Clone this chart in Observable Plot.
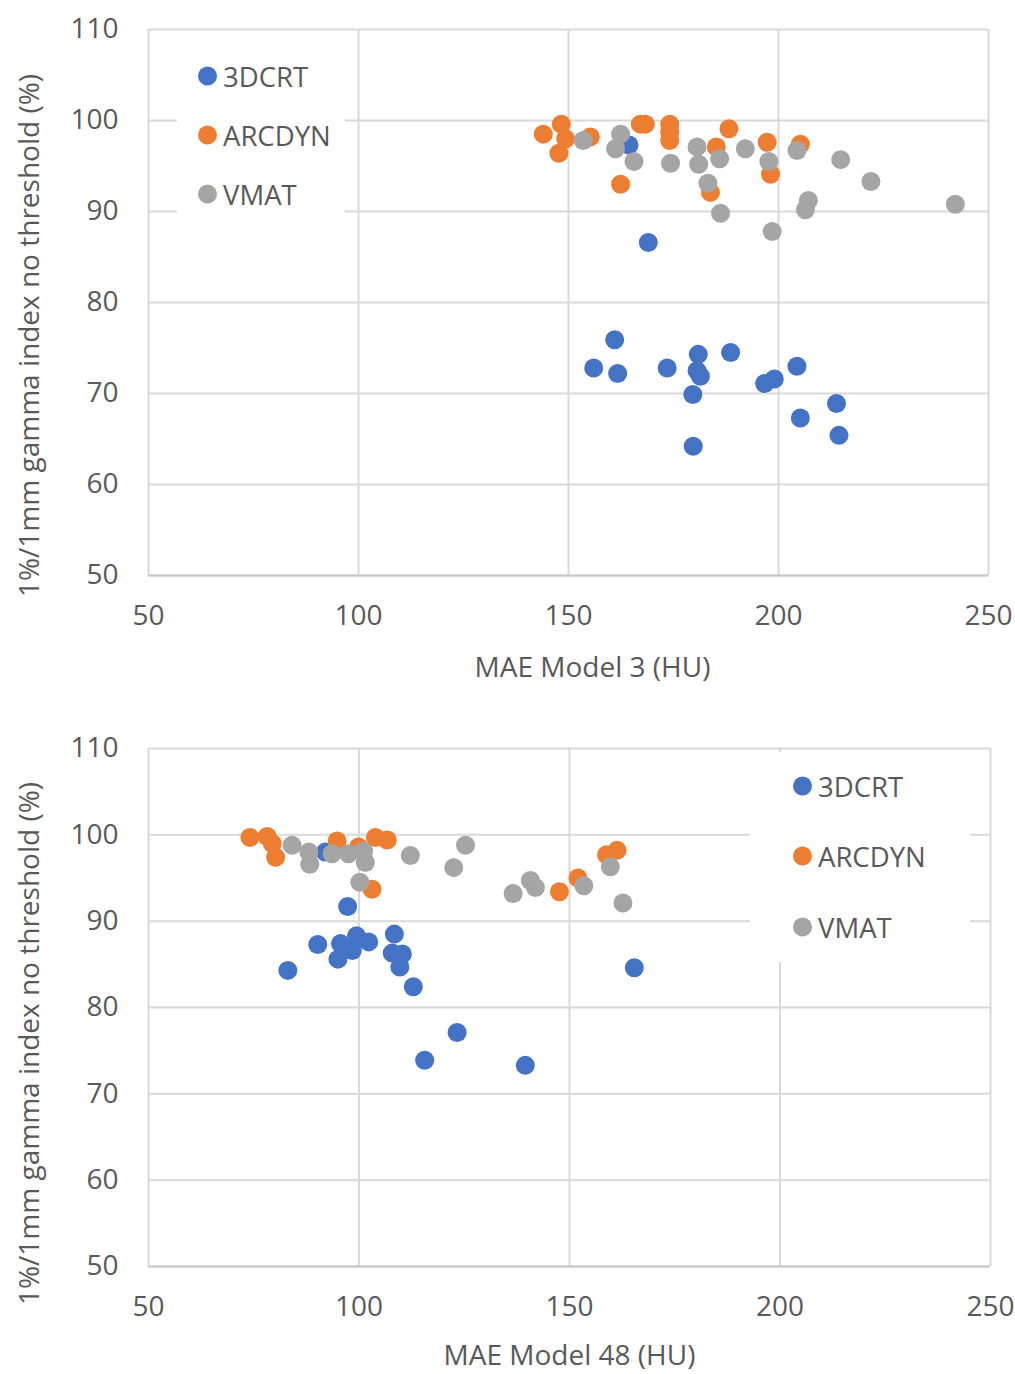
<!DOCTYPE html>
<html>
<head>
<meta charset="utf-8">
<script src="https://cdn.jsdelivr.net/npm/d3@7"></script>
<script src="https://cdn.jsdelivr.net/npm/@observablehq/plot@0.6"></script>
<style>
  body { margin: 0; background: white; }
  #wrap { position: relative; width: 1015px; height: 1374px; font-family: "Open Sans", sans-serif; color: #595959; }
  #wrap svg { display: block; }
  .legend { position: absolute; background: white; font-size: 27.5px; }
  .legend .item { position: absolute; display: flex; align-items: center; white-space: nowrap; }
  .legend .sw { width: 19px; height: 19px; border-radius: 50%; margin-right: 6px; }
</style>
</head>
<body>
<div id="wrap"></div>
<script>
// ---- data ----
const seriesNames = ["3DCRT", "ARCDYN", "VMAT"];
const seriesColors = ["#4472C4", "#ED7D31", "#A5A5A5"];
const xTicks = [50, 100, 150, 200, 250];
const yTicks = [50, 60, 70, 80, 90, 100, 110];
const yTitle = "1%/1mm gamma index no threshold (%)";

// Chart 1: MAE Model 3
const m3_3DCRT_x = [164.4, 169.0, 161.0, 156.0, 161.7, 173.5, 180.9, 180.6, 181.4, 188.6, 179.6, 179.7, 196.7, 199.0, 204.4, 205.2, 213.8, 214.4];
const m3_3DCRT_y = [97.3, 86.6, 75.9, 72.8, 72.2, 72.8, 74.3, 72.5, 71.9, 74.5, 69.9, 64.2, 71.1, 71.6, 73.0, 67.3, 68.9, 65.4];
const m3_ARCDYN_x = [144.0, 148.3, 149.3, 147.7, 155.2, 162.4, 167.1, 168.3, 174.1, 174.1, 174.1, 188.2, 185.2, 183.8, 197.3, 198.1, 205.2];
const m3_ARCDYN_y = [98.5, 99.6, 98.0, 96.4, 98.2, 93.0, 99.6, 99.6, 99.6, 98.7, 97.8, 99.1, 97.1, 92.1, 97.6, 94.1, 97.4];
const m3_VMAT_x = [153.5, 162.4, 161.2, 165.6, 174.3, 180.6, 181.0, 186.0, 183.2, 186.2, 192.1, 197.7, 204.4, 214.8, 222.0, 207.1, 206.4, 198.5, 242.1];
const m3_VMAT_y = [97.8, 98.5, 96.9, 95.5, 95.3, 97.1, 95.2, 95.8, 93.1, 89.8, 96.9, 95.5, 96.7, 95.7, 93.3, 91.2, 90.2, 87.8, 90.8];

// Chart 2: MAE Model 48
const m48_3DCRT_x = [92.0, 97.3, 90.2, 83.1, 95.6, 95.0, 98.4, 99.4, 102.3, 108.4, 107.9, 110.3, 109.7, 112.9, 123.3, 115.6, 139.5, 165.4];
const m48_3DCRT_y = [98.0, 91.7, 87.3, 84.3, 87.4, 85.6, 86.6, 88.3, 87.6, 88.5, 86.3, 86.2, 84.7, 82.4, 77.1, 73.9, 73.3, 84.6];
const m48_ARCDYN_x = [74.1, 78.2, 79.4, 80.2, 94.8, 99.9, 103.9, 106.7, 103.1, 147.6, 152.0, 158.8, 161.3];
const m48_ARCDYN_y = [99.7, 99.8, 99.0, 97.4, 99.3, 98.6, 99.7, 99.4, 93.7, 93.4, 95.0, 97.7, 98.2];
const m48_VMAT_x = [84.1, 88.1, 88.3, 93.6, 97.5, 101.1, 101.5, 100.2, 112.2, 125.3, 122.5, 136.6, 140.7, 141.9, 153.4, 159.7, 162.7];
const m48_VMAT_y = [98.8, 98.0, 96.6, 97.8, 97.8, 98.1, 96.8, 94.5, 97.6, 98.8, 96.2, 93.2, 94.7, 93.9, 94.1, 96.3, 92.1];

function rows(series, xs, ys) { return xs.map((x, i) => ({series, x, y: ys[i]})); }

function chart(opts) {
  const data = [
    ...rows("3DCRT", opts.blueX, opts.blueY),
    ...rows("ARCDYN", opts.orangeX, opts.orangeY),
    ...rows("VMAT", opts.grayX, opts.grayY)
  ];
  const grid = {stroke: "#d9d9d9", strokeOpacity: 1, strokeWidth: 2};
  return Plot.plot({
    width: 1015,
    height: opts.height,
    marginLeft: 148,
    marginRight: opts.marginRight,
    marginTop: opts.marginTop,
    marginBottom: opts.marginBottom,
    style: {fontFamily: "'Open Sans', sans-serif", fontSize: "28px", color: "#595959", background: "white", overflow: "visible"},
    x: {domain: [50, 250]},
    y: {domain: [50, 110]},
    color: {domain: seriesNames, range: seriesColors},
    marks: [
      Plot.gridX(xTicks, grid),
      Plot.gridY(yTicks, grid),
      Plot.ruleY([50], {stroke: "#c8c8c8", strokeWidth: 2}),
      Plot.axisX(xTicks, {tickSize: 0, tickPadding: 30, label: null, fill: "#595959"}),
      Plot.axisY(yTicks, {tickSize: 0, tickPadding: 30, label: null, fill: "#595959"}),
      Plot.text([opts.xTitle], {frameAnchor: "bottom", textAnchor: "middle", lineAnchor: "middle", dx: opts.xTitleDx, dy: opts.xTitleDy, fill: "#595959", fontSize: 28}),
      Plot.text([yTitle], {frameAnchor: "left", textAnchor: "middle", lineAnchor: "middle", rotate: -90, dx: -118, dy: opts.yTitleDy, fill: "#595959", fontSize: 28}),
      Plot.dot(data, {x: "x", y: "y", fill: "series", r: 9.5, stroke: null})
    ]
  });
}

const wrap = document.getElementById("wrap");
wrap.appendChild(chart({
  height: 690, marginTop: 29, marginBottom: 115, marginRight: 27,
  xTitle: "MAE Model 3 (HU)", xTitleDx: 24, xTitleDy: 93, yTitleDy: 33,
  blueX: m3_3DCRT_x, blueY: m3_3DCRT_y,
  orangeX: m3_ARCDYN_x, orangeY: m3_ARCDYN_y,
  grayX: m3_VMAT_x, grayY: m3_VMAT_y
}));
wrap.appendChild(chart({
  height: 684, marginTop: 58, marginBottom: 108, marginRight: 25,
  xTitle: "MAE Model 48 (HU)", xTitleDx: 0, xTitleDy: 90, yTitleDy: 36,
  blueX: m48_3DCRT_x, blueY: m48_3DCRT_y,
  orangeX: m48_ARCDYN_x, orangeY: m48_ARCDYN_y,
  grayX: m48_VMAT_x, grayY: m48_VMAT_y
}));

function legend(box, itemLeft, itemTops) {
  const div = document.createElement("div");
  div.className = "legend";
  Object.assign(div.style, {left: box[0] + "px", top: box[1] + "px", width: box[2] + "px", height: box[3] + "px"});
  seriesNames.forEach((name, i) => {
    const it = document.createElement("div");
    it.className = "item";
    it.style.left = itemLeft + "px";
    it.style.top = itemTops[i] + "px";
    it.style.transform = "translateY(-50%)";
    const sw = document.createElement("span");
    sw.className = "sw";
    sw.style.background = seriesColors[i];
    const tx = document.createElement("span");
    tx.textContent = name;
    it.appendChild(sw); it.appendChild(tx);
    div.appendChild(it);
  });
  wrap.appendChild(div);
}
// positions relative to each box
legend([177, 45, 168, 180], 21, [31, 90, 149]);
legend([750, 752, 220, 210], 43, [34, 104, 175]);
</script>
</body>
</html>
